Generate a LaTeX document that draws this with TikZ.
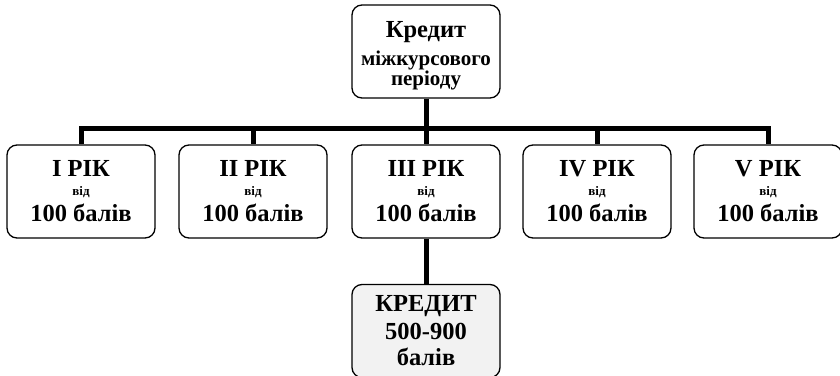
\documentclass[tikz,border=0pt]{standalone}
\usepackage{fontspec}
\setmainfont{Liberation Serif}
\usetikzlibrary{positioning}

\newcommand{\bigf}{\fontsize{24.5}{28}\selectfont}
\newcommand{\midf}{\fontsize{21}{28}\selectfont}
\newcommand{\smallf}{\fontsize{13}{28}\selectfont}
\newcommand{\topstrut}{\rule{0pt}{24pt}}

\begin{document}
\begin{tikzpicture}[x=1pt,y=-1pt,
    box/.style={draw,line width=1.3pt,rounded corners=10pt,minimum width=148pt,
      minimum height=93pt,inner sep=0pt,align=center,font=\bfseries\bigf},
    link/.style={line width=5pt}]
  \useasboundingbox (0,0) rectangle (840,375);
  \clip (0,0) rectangle (840,375);
  % вершина
  \node[box] (kredit) at (426,51.5) {\topstrut Кредит\\[0pt] \midf міжкурсового\\[-8pt] \midf періоду};
  % роки навчання
  \node[box] (rik1) at (81,191.5) {I РІК\\[-9pt] \smallf від\\[-2pt] 100 балів};
  \node[box] (rik2) at (253,191.5) {II РІК\\[-9pt] \smallf від\\[-2pt] 100 балів};
  \node[box] (rik3) at (426,191.5) {III РІК\\[-9pt] \smallf від\\[-2pt] 100 балів};
  \node[box] (rik4) at (597,191.5) {IV РІК\\[-9pt] \smallf від\\[-2pt] 100 балів};
  \node[box] (rik5) at (768,191.5) {V РІК\\[-9pt] \smallf від\\[-2pt] 100 балів};
  % разом
  \node[box,fill=black!5] (razom) at (426,331) {КРЕДИТ\\[0pt] 500-900\\[-2pt] балів};
  \coordinate (bus) at (426,128);
  \draw[link] (rik1.north) |- (bus) -| (rik5.north);
  \draw[link] (kredit.south) -- (bus) -- (rik3.north);
  \draw[link] (bus -| rik2.north) -- (rik2.north);
  \draw[link] (bus -| rik4.north) -- (rik4.north);
  \draw[link] (rik3.south) -- (razom.north);
\end{tikzpicture}
\end{document}
